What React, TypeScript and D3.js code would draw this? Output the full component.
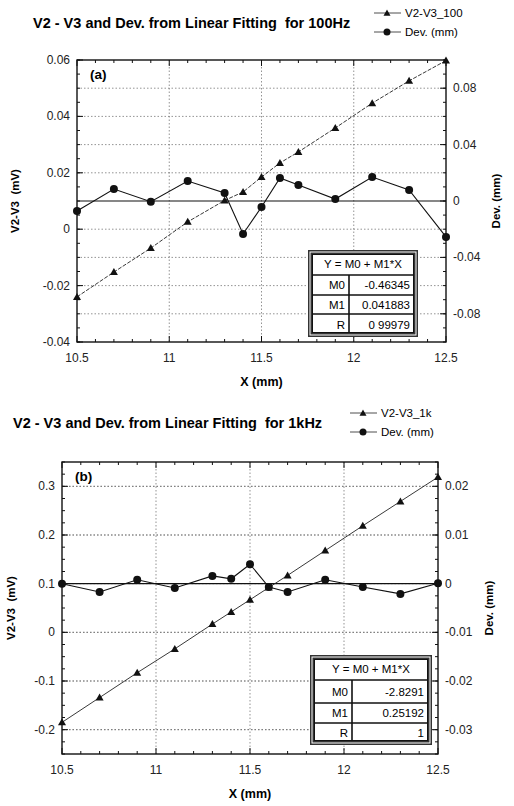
import React from "react";
import * as d3 from "d3";

const W = 514;
const H = 806;

// shared x positions (mm)
const xs = [10.5, 10.7, 10.9, 11.1, 11.3, 11.4, 11.5, 11.6, 11.7, 11.9, 12.1, 12.3, 12.5];
const xTicks = [10.5, 11, 11.5, 12, 12.5];

// (a) 100 Hz
const v100 = [-0.024, -0.0152, -0.0067, 0.0026, 0.0102, 0.0132, 0.0185, 0.0235, 0.0274, 0.0359, 0.0447, 0.0526, 0.0598];
const dev100 = [-0.0071, 0.0085, -0.0005, 0.0142, 0.0057, -0.0234, -0.0043, 0.0163, 0.0113, 0.0014, 0.017, 0.0078, -0.0255];
const leftTicks100 = [-0.04, -0.02, 0, 0.02, 0.04, 0.06];
const rightTicks100 = [-0.08, -0.04, 0, 0.04, 0.08];
const fit100 = [["M0", "-0.46345"], ["M1", "0.041883"], ["R", "0 99979"]];

// (b) 1 kHz
const v1k = [-0.185, -0.134, -0.083, -0.034, 0.017, 0.042, 0.067, 0.092, 0.117, 0.168, 0.219, 0.269, 0.319];
const dev1k = [0.0, -0.0017, 0.0008, -0.0009, 0.0016, 0.001, 0.004, -0.0007, -0.0017, 0.0008, -0.0007, -0.0021, 0.0001];
const leftTicks1k = [-0.2, -0.1, 0, 0.1, 0.2, 0.3];
const rightTicks1k = [-0.03, -0.02, -0.01, 0, 0.01, 0.02];
const fit1k = [["M0", "-2.8291"], ["M1", "0.25192"], ["R", "1"]];

const FONT = "'Liberation Sans', Arial, sans-serif";

type PanelProps = {
  title: string;
  titleX: number;
  tag: string;
  legendName: string;
  legendX: number;
  top: number;
  left: number;
  right: number;
  plotTop: number;
  plotBottom: number;
  leftDomain: [number, number];
  rightDomain: [number, number];
  leftTicks: number[];
  rightTicks: number[];
  vals: number[];
  devs: number[];
  fit: string[][];
  table: { x: number; w: number; c: number; rows: number[] };
  yLabelX: number;
  devLabelX: number;
  fitDash?: string;
};

const fmt = (v: number) => (v === 0 ? "0" : String(+v.toFixed(3)));

function tri(x: number, y: number, r: number) {
  return `M${x},${y - r}L${x + r},${y + r * 0.75}L${x - r},${y + r * 0.75}Z`;
}

function Panel(p: PanelProps) {
  const x = d3.scaleLinear().domain([10.5, 12.5]).range([p.left, p.right]);
  const yl = d3.scaleLinear().domain(p.leftDomain).range([p.plotBottom, p.plotTop]);
  const yr = d3.scaleLinear().domain(p.rightDomain).range([p.plotBottom, p.plotTop]);
  const pts = xs.map((v, i) => [x(v), yl(p.vals[i])] as [number, number]);
  const dpts = xs.map((v, i) => [x(v), yr(p.devs[i])] as [number, number]);
  const line = d3.line();
  const minorX = d3.range(10.5, 12.5001, 0.1);
  const leftStep = (p.leftTicks[1] - p.leftTicks[0]) / 4;
  const minorL = d3.range(p.leftDomain[0], p.leftDomain[1] + 1e-9, leftStep);
  const rightStep = (p.rightTicks[1] - p.rightTicks[0]) / 4;
  const minorR = d3.range(Math.ceil(p.rightDomain[0] / rightStep) * rightStep, p.rightDomain[1] + 1e-9, rightStep);
  const midY = (p.plotTop + p.plotBottom) / 2;
  const t = p.table;
  const rowY = t.rows;
  const grid = { stroke: "#666", strokeWidth: 0.7, strokeDasharray: "1.5,2" };
  return (
    <g fontFamily={FONT}>
      <text x={p.titleX} y={p.top} fontSize={14.5} fontWeight="bold" style={{ whiteSpace: "pre" }}>{p.title}</text>
      {/* legend */}
      <g fontSize={11.5}>
        <line x1={p.legendX} x2={p.legendX + 27} y1={p.top - 15} y2={p.top - 15} stroke="#222" strokeWidth={0.8} />
        <path d={tri(p.legendX + 13, p.top - 15, 3.5)} fill="#111" />
        <text x={p.legendX + 31} y={p.top - 11}>{p.legendName}</text>
        <line x1={p.legendX} x2={p.legendX + 27} y1={p.top + 4} y2={p.top + 4} stroke="#222" strokeWidth={0.8} />
        <circle cx={p.legendX + 13} cy={p.top + 4} r={3.5} fill="#111" />
        <text x={p.legendX + 31} y={p.top + 8}>Dev. (mm)</text>
      </g>
      {/* grid */}
      {xTicks.slice(1, -1).map(v => (
        <line key={"gx" + v} x1={x(v)} x2={x(v)} y1={p.plotTop} y2={p.plotBottom} {...grid} />
      ))}
      {p.leftTicks.filter(v => yl(v) > p.plotTop + 2 && yl(v) < p.plotBottom - 2).map(v => (
        <line key={"gl" + v} x1={p.left} x2={p.right} y1={yl(v)} y2={yl(v)} {...grid} />
      ))}
      {p.rightTicks.filter(v => v !== 0 && yr(v) > p.plotTop + 2 && yr(v) < p.plotBottom - 2).map(v => (
        <line key={"gr" + v} x1={p.left} x2={p.right} y1={yr(v)} y2={yr(v)} {...grid} />
      ))}
      <line x1={p.left} x2={p.right} y1={yr(0)} y2={yr(0)} stroke="#111" strokeWidth={1.1} />
      {/* frame */}
      <rect x={p.left} y={p.plotTop} width={p.right - p.left} height={p.plotBottom - p.plotTop} fill="none" stroke="#111" strokeWidth={1.4} />
      {/* ticks */}
      {minorX.map((v, i) => {
        const len = i % 5 === 0 ? 6 : 3;
        return (
          <g key={"tx" + i} stroke="#111" strokeWidth={1}>
            <line x1={x(v)} x2={x(v)} y1={p.plotBottom} y2={p.plotBottom - len} />
            <line x1={x(v)} x2={x(v)} y1={p.plotTop} y2={p.plotTop + len} />
          </g>
        );
      })}
      {minorL.map((v, i) => (
        <line key={"tl" + i} x1={p.left} x2={p.left + 3} y1={yl(v)} y2={yl(v)} stroke="#111" />
      ))}
      {p.leftTicks.map(v => (
        <line key={"tlm" + v} x1={p.left} x2={p.left + 6} y1={yl(v)} y2={yl(v)} stroke="#111" />
      ))}
      {minorR.map((v, i) => (
        <line key={"tr" + i} x1={p.right - 3} x2={p.right} y1={yr(v)} y2={yr(v)} stroke="#111" />
      ))}
      {p.rightTicks.map(v => (
        <line key={"trm" + v} x1={p.right - 6} x2={p.right} y1={yr(v)} y2={yr(v)} stroke="#111" />
      ))}
      {/* tick labels */}
      <g fontSize={12} fill="#222">
        {xTicks.map(v => (
          <text key={"lx" + v} x={x(v)} y={p.plotBottom + 20} textAnchor="middle">{v}</text>
        ))}
        {p.leftTicks.map(v => (
          <text key={"ll" + v} x={p.left - 7} y={yl(v) + 4} textAnchor="end">{fmt(v)}</text>
        ))}
        {p.rightTicks.map(v => (
          <text key={"lr" + v} x={p.right + 7} y={yr(v) + 4}>{fmt(v)}</text>
        ))}
      </g>
      {/* axis titles */}
      <text x={(p.left + p.right) / 2} y={p.plotBottom + 44} textAnchor="middle" fontSize={12.5} fontWeight="bold">X (mm)</text>
      <text transform={`translate(${p.yLabelX},${midY}) rotate(-90)`} textAnchor="middle" fontSize={11.5} fontWeight="bold" style={{ whiteSpace: "pre" }}>V2-V3  (mV)</text>
      <text transform={`translate(${p.devLabelX},${midY}) rotate(-90)`} textAnchor="middle" fontSize={11.5} fontWeight="bold">Dev. (mm)</text>
      <text x={p.left + 13} y={p.plotTop + 19} fontSize={13.5} fontWeight="bold">{p.tag}</text>
      {/* series */}
      <path d={line(pts) || ""} fill="none" stroke="#222" strokeWidth={0.9} strokeDasharray={p.fitDash} />
      {pts.map((q, i) => <path key={"t" + i} d={tri(q[0], q[1], 4)} fill="#111" />)}
      <path d={line(dpts) || ""} fill="none" stroke="#111" strokeWidth={1.1} />
      {dpts.map((q, i) => <circle key={"c" + i} cx={q[0]} cy={q[1]} r={4} fill="#111" />)}
      {/* fit table */}
      <g>
        <rect x={t.x} y={rowY[0]} width={t.w} height={rowY[4] - rowY[0]} fill="#fff" stroke="#333" strokeWidth={4} />
        <rect x={t.x} y={rowY[0]} width={t.w} height={rowY[4] - rowY[0]} fill="none" stroke="#fff" strokeWidth={1} />
        <rect x={t.x + 2.5} y={rowY[0] + 2.5} width={t.w - 5} height={rowY[4] - rowY[0] - 5} fill="none" stroke="#111" strokeWidth={1} />
        {rowY.slice(1, 4).map((ry, i) => (
          <line key={"rl" + i} x1={t.x + 2} x2={t.x + t.w - 2} y1={ry} y2={ry} stroke="#111" strokeWidth={1.6} />
        ))}
        <line x1={t.c} x2={t.c} y1={rowY[1]} y2={rowY[4] - 2} stroke="#111" strokeWidth={1.6} />
        <text x={t.x + t.w / 2} y={(rowY[0] + rowY[1]) / 2 + 4} textAnchor="middle" fontSize={11.5}>Y = M0 + M1*X</text>
        {p.fit.map((r, i) => (
          <g key={"fr" + i} fontSize={11.5}>
            <text x={t.c - 4} y={(rowY[i + 1] + rowY[i + 2]) / 2 + 4} textAnchor="end">{r[0]}</text>
            <text x={t.x + t.w - 6} y={(rowY[i + 1] + rowY[i + 2]) / 2 + 4} textAnchor="end">{r[1]}</text>
          </g>
        ))}
      </g>
    </g>
  );
}

export default function App() {
  return (
    <svg width={W} height={H} style={{ position: "absolute", left: 0, top: 0, background: "#fff" }}>
      <rect width={W} height={H} fill="#fff" />
      <Panel
        title="V2 - V3 and Dev. from Linear Fitting  for 100Hz"
        titleX={33}
        tag="(a)"
        legendName="V2-V3_100"
        legendX={374}
        top={28}
        left={77}
        right={446}
        plotTop={60}
        plotBottom={342}
        leftDomain={[-0.04, 0.06]}
        rightDomain={[-0.1, 0.1]}
        leftTicks={leftTicks100}
        rightTicks={rightTicks100}
        vals={v100}
        devs={dev100}
        fit={fit100}
        table={{ x: 310, w: 106, c: 349, rows: [252, 275, 295, 314, 335] }}
        yLabelX={19}
        devLabelX={500}
        fitDash="4,1.5"
      />
      <Panel
        title="V2 - V3 and Dev. from Linear Fitting  for 1kHz"
        titleX={13}
        tag="(b)"
        legendName="V2-V3_1k"
        legendX={350}
        top={428}
        left={62}
        right={438}
        plotTop={462}
        plotBottom={754}
        leftDomain={[-0.25, 0.35]}
        rightDomain={[-0.035, 0.025]}
        leftTicks={leftTicks1k}
        rightTicks={rightTicks1k}
        vals={v1k}
        devs={dev1k}
        fit={fit1k}
        table={{ x: 312, w: 118, c: 352, rows: [657, 680, 703, 723, 743] }}
        yLabelX={15}
        devLabelX={493}
      />
    </svg>
  );
}
